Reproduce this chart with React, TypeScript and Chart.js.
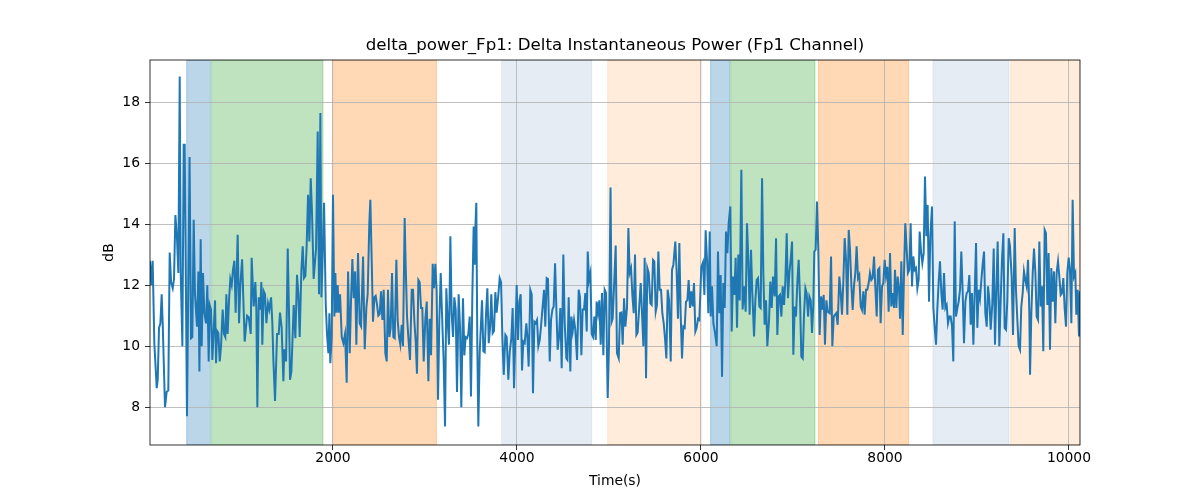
import { useEffect, useRef } from "react";
import { Chart, registerables } from "chart.js";

Chart.register(...registerables);

const chartTitle = "delta_power_Fp1: Delta Instantaneous Power (Fp1 Channel)";
const xLabel = "Time(s)";
const yLabel = "dB";

const timeSec = [
  11, 25, 40, 58, 84, 95, 109, 124, 138, 149, 174, 192, 210, 225, 240, 258, 272, 287, 305, 319,
  334, 345, 363, 377, 388, 413, 441, 457, 471, 486, 500, 522, 537, 548, 562, 573, 587, 602, 620, 634,
  649, 660, 674, 689, 703, 718, 729, 740, 754, 769, 783, 801, 816, 830, 841, 855, 870, 884, 899, 913,
  928, 942, 964, 979, 993, 1012,
  1040, 1066, 1084, 1106, 1116, 1138, 1156, 1167, 1178, 1193, 1211, 1221, 1232, 1247, 1261, 1276, 1294, 1308, 1327, 1341,
  1352, 1370, 1392, 1410, 1424, 1442, 1461, 1471, 1490, 1508, 1522, 1533, 1548, 1573, 1591, 1609, 1624, 1638, 1656, 1671,
  1685, 1700, 1714, 1729, 1743, 1758, 1772, 1790, 1816, 1834, 1848, 1863, 1874, 1888, 1903, 1921, 1935, 1950, 1961, 1971,
  1986, 2000,
  2015, 2026, 2037, 2051, 2062, 2077, 2095, 2113, 2131, 2149, 2164, 2182, 2196, 2211, 2225, 2240, 2254, 2272, 2290, 2305,
  2327, 2345, 2363, 2377, 2395, 2406, 2421, 2435, 2450, 2464, 2479, 2493, 2508, 2522, 2537, 2551, 2569, 2584, 2598, 2613,
  2627, 2642, 2656, 2671, 2689, 2703, 2718, 2732, 2747, 2761, 2779, 2790, 2805, 2819, 2837, 2856, 2870, 2885, 2899, 2913,
  2928, 2942, 2957, 2971, 2986,
  3004, 3019, 3037, 3051, 3066, 3084, 3098, 3113, 3127, 3142, 3156, 3171, 3185, 3203, 3218, 3232, 3247, 3261, 3276, 3290,
  3305, 3319, 3334, 3348, 3366, 3381, 3395, 3413, 3428, 3442, 3457, 3471, 3486, 3500, 3515, 3529, 3540, 3548, 3558, 3569,
  3580, 3595, 3620, 3635, 3649, 3664, 3678, 3693, 3707, 3721, 3736, 3750, 3765, 3779, 3798, 3812, 3827, 3841, 3856, 3874,
  3888, 3906, 3921, 3939, 3953, 3968, 3982, 3997,
  4011, 4026, 4040, 4055, 4069, 4084, 4102, 4113, 4127, 4145, 4160, 4174, 4189, 4203, 4218, 4232, 4247, 4261, 4276, 4294,
  4308, 4323, 4337, 4356, 4370, 4385, 4399, 4414, 4428, 4442, 4457, 4471, 4486, 4504, 4519, 4537, 4548, 4562, 4580, 4591,
  4606, 4620, 4634, 4653, 4671, 4685, 4700, 4714, 4729, 4743, 4758, 4769, 4783, 4798, 4812, 4827, 4841, 4856, 4866, 4881,
  4895, 4910, 4924, 4939, 4953, 4968, 4986, 5000, 5017,
  5029, 5040, 5055, 5073, 5087, 5106, 5120, 5135, 5149, 5164, 5178, 5196, 5211, 5225, 5240, 5254, 5269, 5283, 5298, 5312,
  5330, 5345, 5359, 5374, 5388, 5403, 5417, 5432, 5450, 5464, 5479, 5493, 5508, 5522, 5537, 5551, 5566, 5580, 5595, 5609,
  5624, 5638, 5653, 5671, 5685, 5700, 5721, 5736, 5750, 5765, 5779, 5794, 5808, 5823, 5837, 5852, 5866, 5881, 5895, 5910,
  5924, 5939, 5953, 5968, 5982,
  6004, 6022, 6037, 6051, 6066, 6080, 6095, 6106, 6120, 6135, 6153, 6171, 6185, 6200, 6214, 6229, 6243, 6258, 6272, 6287,
  6301, 6319, 6334, 6348, 6363, 6377, 6392, 6406, 6421, 6439, 6453, 6468, 6486, 6500, 6515, 6529, 6544, 6558, 6577, 6591,
  6606, 6620, 6635, 6649, 6664, 6678, 6692, 6707, 6721, 6740, 6754, 6769, 6783, 6801, 6816, 6830, 6845, 6859, 6874, 6888,
  6903, 6917, 6932, 6946, 6961, 6975,
  6990, 7004, 7019, 7033, 7048, 7062, 7077, 7091, 7106, 7120, 7135, 7149, 7164, 7178, 7193, 7207, 7221, 7232, 7247, 7261,
  7276, 7290, 7305, 7319, 7334, 7348, 7363, 7377, 7399, 7414, 7428, 7443, 7457, 7471, 7486, 7504, 7519, 7533, 7548, 7562,
  7577, 7591, 7606, 7620, 7635, 7649, 7664, 7678, 7692, 7707, 7721, 7736, 7750, 7765, 7779, 7794, 7808, 7823, 7837, 7852,
  7866, 7881, 7895, 7910, 7924, 7939, 7953, 7968, 7982, 7997, 8011, 8026,
  8040, 8055, 8069, 8084, 8098, 8109, 8124, 8138, 8153, 8164, 8178, 8193, 8207, 8221, 8236, 8250, 8265, 8279, 8294, 8308,
  8323, 8337, 8352, 8366, 8377, 8392, 8406, 8421, 8435, 8450, 8464, 8479, 8493, 8511, 8526, 8540, 8555, 8569, 8584, 8598,
  8613, 8627, 8642, 8656, 8671, 8685, 8700, 8714, 8729, 8743, 8758, 8772, 8787, 8801, 8816, 8830, 8845, 8859, 8874, 8888,
  8903, 8917, 8932, 8946, 8961, 8975, 8990,
  9004, 9019, 9033, 9048, 9062, 9077, 9091, 9106, 9120, 9135, 9149, 9167, 9182, 9196, 9211, 9225, 9243, 9258, 9272, 9287,
  9301, 9316, 9330, 9345, 9359, 9377, 9392, 9410, 9424, 9439, 9453, 9468, 9482, 9497, 9511, 9526, 9540, 9555, 9569, 9577,
  9591, 9606, 9620, 9635, 9649, 9664, 9678, 9693, 9707, 9721, 9736, 9750, 9765, 9779, 9794, 9808, 9823, 9837, 9852, 9866,
  9881, 9895, 9910, 9924, 9939, 9953, 9968, 9982, 9997, 10011, 10026, 10040, 10055, 10069, 10080, 10095, 10109, 10120,
];

const powerDb = [
  12.8, 12.0, 12.8, 10.1, 8.62, 8.9, 10.6, 10.75, 11.7, 10.75, 8.0, 8.5, 8.55, 13.07, 12.1, 11.9, 12.2, 14.3, 13.5, 12.4,
  18.84, 12.4, 10.0, 16.6, 16.6, 7.7, 16.2, 10.26, 10.3, 14.14, 11.7, 10.64, 12.45, 9.17, 13.5, 10.0, 12.4, 11.08, 10.75, 12.0,
  9.5, 11.35, 11.2, 9.55, 10.5, 11.5, 9.44, 10.5, 10.43, 9.5, 10.0, 11.2, 10.4, 10.3, 11.7, 10.4, 11.5, 12.2, 12.0, 12.5,
  12.8, 11.1, 13.65, 10.75, 12.0, 12.85,
  10.15, 11.0, 10.95, 10.4, 12.9, 11.3, 12.1, 11.2, 8.0, 11.6, 11.2, 12.1, 10.05, 11.8, 11.7, 10.75, 11.4, 11.2, 11.6, 10.75,
  9.55, 8.2, 10.4, 10.4, 11.1, 10.6, 8.85, 9.9, 9.5, 13.2, 11.1, 8.9, 9.17, 11.35, 10.26, 12.34, 11.7, 10.3, 12.45, 13.27,
  12.23, 12.3, 13.3, 14.96, 13.43, 15.5, 14.4, 12.2, 13.2, 17.04, 11.7, 17.64, 11.6, 13.0, 14.7, 11.4, 10.4, 9.77, 11.08, 9.44,
  10.3, 14.96,
  10.97, 12.4, 11.1, 12.0, 11.1, 11.7, 10.3, 10.1, 10.4, 8.8, 12.45, 9.77, 11.5, 12.86, 11.57, 12.45, 10.05, 13.05, 10.75, 10.65,
  12.94, 9.9, 11.27, 11.7, 14.03, 14.8, 12.8, 10.8, 11.6, 11.65, 11.35, 11.0, 11.05, 11.8, 10.86, 11.85, 9.77, 9.5, 11.85, 10.3,
  10.6, 12.4, 10.3, 10.26, 12.83, 10.86, 10.3, 10.05, 10.7, 10.0, 14.2, 12.67, 10.97, 10.3, 9.55, 11.85, 11.85, 10.8, 10.15, 9.1,
  12.17, 12.1, 11.25, 11.25, 9.5,
  10.9, 11.46, 8.85, 10.9, 9.7, 12.7, 11.9, 12.7, 11.8, 8.24, 10.85, 12.4, 11.08, 9.5, 7.37, 11.9, 10.8, 10.05, 13.6, 11.08,
  10.3, 11.6, 11.2, 8.5, 11.7, 10.6, 8.0, 11.57, 9.7, 10.3, 10.26, 10.4, 10.97, 8.35, 11.7, 13.92, 12.67, 13.9, 14.7, 10.0,
  7.37, 9.8, 11.5, 9.83, 9.8, 11.08, 11.9, 10.1, 10.6, 11.7, 10.43, 10.5, 11.77, 11.1, 11.7, 12.23, 12.1, 10.3, 9.06, 10.37,
  10.3, 8.9, 9.8, 10.26, 11.25, 8.62, 10.3, 12.0,
  10.2, 11.46, 11.7, 9.2, 10.15, 10.1, 10.75, 10.3, 9.33, 11.85, 11.7, 8.46, 10.8, 10.75, 10.86, 10.0, 10.2, 10.64, 11.2, 11.85,
  10.64, 12.23, 12.2, 9.5, 10.86, 11.2, 11.3, 12.72, 11.25, 9.88, 10.3, 11.25, 9.28, 13.0, 10.75, 9.6, 9.55, 11.6, 9.17, 10.97,
  10.5, 10.86, 10.55, 9.55, 11.85, 11.6, 9.7, 11.2, 11.2, 11.74, 10.48, 13.1, 12.17, 12.4, 10.4, 10.3, 10.97, 10.2, 11.46, 11.08,
  11.5, 10.05, 11.74, 9.7, 11.85, 11.74, 8.3, 10.0, 15.2,
  10.8, 10.9, 11.96, 13.3, 9.77, 9.6, 11.08, 11.1, 10.05, 11.57, 10.64, 11.25, 13.87, 12.4, 12.56, 11.68, 11.08, 13.0, 10.37, 10.45,
  11.35, 12.07, 11.08, 10.0, 12.9, 8.95, 12.56, 12.4, 11.4, 11.35, 12.83, 12.78, 11.13, 11.35, 13.1, 11.85, 11.85, 11.08, 10.75, 10.26,
  9.6, 11.85, 11.5, 9.5, 12.5, 12.67, 13.43, 12.4, 10.9, 13.38, 11.08, 9.6, 10.64, 10.6, 11.46, 11.5, 12.17, 11.25, 11.8, 11.3,
  12.07, 10.48, 10.6, 10.9, 10.86,
  12.6, 12.75, 11.68, 13.8, 12.8, 11.08, 13.76, 10.97, 11.96, 10.75, 10.43, 10.0, 13.1, 11.08, 12.33, 9.0, 12.07, 11.25, 13.76, 13.05,
  14.03, 14.58, 10.48, 12.28, 11.68, 12.9, 10.6, 13.0, 11.5, 15.78, 11.2, 11.96, 11.13, 14.03, 12.83, 11.03, 13.16, 11.74, 10.32, 11.5,
  12.17, 12.23, 11.3, 11.25, 15.5, 12.4, 10.7, 11.5, 10.0, 10.86, 12.12, 11.25, 12.28, 11.63, 13.54, 10.37, 11.63, 11.68, 10.97, 11.96,
  11.35, 12.12, 13.7, 11.57, 12.4, 12.83,
  13.43, 9.72, 11.3, 10.97, 12.12, 12.83, 11.5, 9.66, 9.6, 11.03, 11.9, 11.74, 10.97, 11.63, 11.5, 10.43, 11.35, 13.1, 13.16, 14.74,
  13.1, 10.37, 11.63, 11.2, 11.68, 10.05, 11.5, 11.13, 11.08, 12.94, 10.0, 10.97, 11.03, 11.08, 10.7, 12.28, 11.74, 11.03, 12.17, 13.54,
  12.83, 11.03, 13.81, 13.16, 12.0, 11.19, 12.0, 12.4, 13.27, 12.23, 12.33, 11.3, 11.19, 11.8, 11.03, 11.85, 11.85, 12.07, 12.4, 12.17,
  12.23, 12.94, 11.96, 10.97, 12.5, 12.56, 10.75, 11.96, 12.07, 12.83, 12.3, 12.6,
  11.13, 13.05, 11.3, 11.74, 11.25, 12.5, 11.25, 12.28, 11.85, 10.9, 12.78, 10.37, 12.4, 14.03, 13.16, 12.4, 12.5, 14.03, 11.96, 12.94,
  12.5, 12.56, 11.9, 12.17, 13.76, 13.1, 12.72, 13.05, 15.56, 13.6, 14.63, 11.46, 13.6, 14.58, 11.25, 10.64, 10.05, 11.2, 12.12, 12.78,
  11.74, 11.2, 12.4, 11.25, 11.35, 10.75, 10.97, 10.97, 10.64, 9.5, 14.09, 10.97, 11.25, 11.46, 11.85, 13.1, 11.74, 10.1, 11.46, 11.74,
  11.8, 12.33, 10.7, 11.74, 10.05, 11.68, 13.38,
  10.6, 11.85, 11.57, 12.17, 12.67, 13.1, 11.08, 10.64, 11.96, 11.5, 10.54, 11.4, 13.2, 10.05, 11.85, 13.43, 10.0, 11.5, 12.83, 13.7,
  10.6, 10.54, 11.5, 13.54, 13.27, 12.28, 10.37, 13.87, 11.85, 10.86, 10.0, 9.88, 11.3, 11.74, 12.45, 12.17, 11.96, 12.83, 11.13, 9.06,
  11.08, 12.4, 13.2, 12.4, 10.97, 10.86, 13.43, 11.3, 11.96, 9.83, 13.81, 13.7, 11.35, 13.05, 9.88, 12.56, 11.46, 12.45, 10.75, 12.4,
  12.78, 12.28, 11.68, 11.74, 12.23, 11.25, 10.64, 12.4, 12.9, 12.5, 10.75, 14.8, 12.28, 12.4, 11.03, 11.85, 10.32, 11.8,
];

// Shaded stage intervals (seconds)
const bandStart = [410, 681, 1997, 3834, 4986, 6105, 6323, 7276, 8522, 9366];
const bandEnd = [667, 1891, 3124, 4812, 6004, 6312, 7239, 8258, 9348, 10120];
const bandColor = [
  "rgba(31,119,180,0.3)",
  "rgba(44,160,44,0.3)",
  "rgba(255,127,14,0.3)",
  "rgba(176,196,222,0.32)",
  "rgba(255,127,14,0.15)",
  "rgba(31,119,180,0.3)",
  "rgba(44,160,44,0.3)",
  "rgba(255,127,14,0.3)",
  "rgba(176,196,222,0.32)",
  "rgba(255,127,14,0.15)",
];

const xTicks = [2000, 4000, 6000, 8000, 10000];
const yTicks = [8, 10, 12, 14, 16, 18];
const xMin = 11;
const xMax = 10120;
const yMin = 6.76;
const yMax = 19.38;

const FONT = "'DejaVu Sans', 'Liberation Sans', sans-serif";

const bandsPlugin = {
  id: "bands",
  beforeDraw(chart: any) {
    const { ctx, chartArea: a, scales } = chart;
    const x = scales.x;
    ctx.save();
    ctx.beginPath();
    ctx.rect(a.left, a.top, a.right - a.left, a.bottom - a.top);
    ctx.clip();
    bandStart.forEach((s, i) => {
      const x0 = x.getPixelForValue(s);
      const x1 = x.getPixelForValue(bandEnd[i]);
      ctx.fillStyle = bandColor[i];
      ctx.fillRect(x0, a.top, x1 - x0, a.bottom - a.top);
      ctx.strokeStyle = bandColor[i];
      ctx.lineWidth = 1;
      ctx.strokeRect(x0, a.top, x1 - x0, a.bottom - a.top);
    });
    ctx.restore();
  },
  afterDraw(chart: any) {
    const { ctx, chartArea: a } = chart;
    ctx.save();
    ctx.strokeStyle = "#000";
    ctx.lineWidth = 0.8;
    ctx.strokeRect(a.left, a.top, a.right - a.left, a.bottom - a.top);
    ctx.restore();
  },
};

export default function App() {
  const ref = useRef<HTMLCanvasElement | null>(null);

  useEffect(() => {
    if (!ref.current) return;
    Chart.defaults.font.family = FONT;
    Chart.defaults.color = "#000";
    const points = timeSec.map((t, i) => ({ x: t, y: powerDb[i] }));
    const chart = new Chart(ref.current, {
      type: "line",
      data: {
        datasets: [
          {
            data: points,
            borderColor: "#1f77b4",
            borderWidth: 2,
            pointRadius: 0,
            tension: 0,
            fill: false,
          },
        ],
      },
      options: {
        animation: false,
        responsive: false,
        devicePixelRatio: 1,
        layout: { padding: { left: 0, right: 120, top: 0, bottom: 0 } },
        plugins: {
          legend: { display: false },
          tooltip: { enabled: false },
          title: {
            display: true,
            text: chartTitle,
            fullSize: false,
            color: "#000",
            font: { family: FONT, size: 16.67, weight: "normal" },
            padding: { top: 36, bottom: 4 },
          },
        },
        scales: {
          x: {
            type: "linear",
            min: xMin,
            max: xMax,
            afterBuildTicks: (s: any) => {
              s.ticks = xTicks.map((v) => ({ value: v }));
            },
            afterFit: (s: any) => {
              s.height = 55;
            },
            grid: {
              color: "#b0b0b0",
              lineWidth: 0.8,
              tickColor: "#000",
              tickLength: 5,
              drawTicks: true,
            },
            border: { display: false },
            ticks: {
              color: "#000",
              font: { family: FONT, size: 13.89 },
              padding: 0,
              maxRotation: 0,
              callback: (v: any) => String(v),
            },
            title: {
              display: true,
              text: xLabel,
              color: "#000",
              font: { family: FONT, size: 13.89 },
              padding: { top: 0, bottom: 10.7 },
            },
          },
          y: {
            type: "linear",
            min: yMin,
            max: yMax,
            afterBuildTicks: (s: any) => {
              s.ticks = yTicks.map((v) => ({ value: v }));
            },
            afterFit: (s: any) => {
              s.width = 150;
            },
            grid: {
              color: "#b0b0b0",
              lineWidth: 0.8,
              tickColor: "#000",
              tickLength: 5,
              drawTicks: true,
            },
            border: { display: false },
            ticks: {
              color: "#000",
              font: { family: FONT, size: 13.89 },
              padding: 5,
              callback: (v: any) => String(v),
            },
            title: {
              display: true,
              text: yLabel,
              color: "#000",
              font: { family: FONT, size: 13.89 },
              padding: { top: 100.7, bottom: 0 },
            },
          },
        },
      },
      plugins: [bandsPlugin],
    } as any);
    return () => chart.destroy();
  }, []);

  return (
    <div
      style={{
        position: "fixed",
        left: 0,
        top: 0,
        width: 1200,
        height: 500,
        background: "#fff",
      }}
    >
      <canvas ref={ref} width={1200} height={500} style={{ width: 1200, height: 500 }} />
    </div>
  );
}
